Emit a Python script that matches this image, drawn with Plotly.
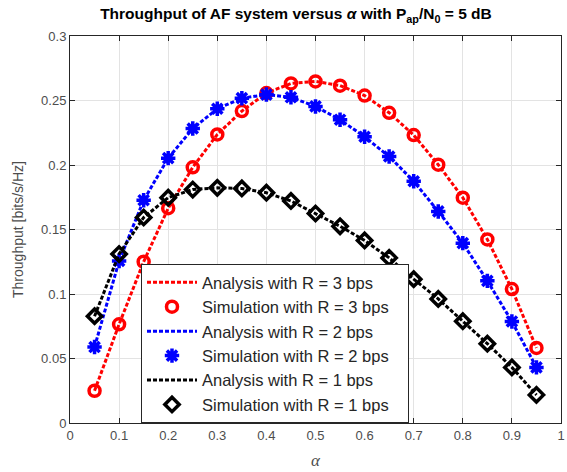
import plotly.graph_objects as go

alpha = [0.05, 0.10, 0.15, 0.20, 0.25, 0.30, 0.35, 0.40, 0.45, 0.50,
         0.55, 0.60, 0.65, 0.70, 0.75, 0.80, 0.85, 0.90, 0.95]

r3_throughput = [0.0250, 0.0765, 0.1250, 0.1665, 0.1982, 0.2237, 0.2418, 0.2558, 0.2632, 0.2648,
                 0.2615, 0.2538, 0.2405, 0.2232, 0.2002, 0.1747, 0.1423, 0.1038, 0.0582]
r2_throughput = [0.0589, 0.1256, 0.1727, 0.2053, 0.2283, 0.2436, 0.2518, 0.2546, 0.2525, 0.2454,
                 0.2351, 0.2219, 0.2066, 0.1874, 0.1640, 0.1394, 0.1102, 0.0787, 0.0431]
r1_throughput = [0.0828, 0.1310, 0.1593, 0.1747, 0.1810, 0.1823, 0.1818, 0.1785, 0.1721, 0.1624,
                 0.1525, 0.1415, 0.1280, 0.1115, 0.0962, 0.0789, 0.0615, 0.0431, 0.0218]

x_ticks = [0, 0.1, 0.2, 0.3, 0.4, 0.5, 0.6, 0.7, 0.8, 0.9, 1]
x_tick_labels = ["0", "0.1", "0.2", "0.3", "0.4", "0.5", "0.6", "0.7", "0.8", "0.9", "1"]
y_ticks = [0, 0.05, 0.1, 0.15, 0.2, 0.25, 0.3]
y_tick_labels = ["0", "0.05", "0.1", "0.15", "0.2", "0.25", "0.3"]

series = [
    ("3", r3_throughput, "#ff0000", "circle-open", 11),
    ("2", r2_throughput, "#0000ff", "asterisk-open", 12),
    ("1", r1_throughput, "#000000", "diamond-open", 11),
]

pad = "\u00a0\u00a0\u00a0"
fig = go.Figure()
for r, vals, col, sym, size in series:
    fig.add_trace(go.Scatter(
        x=alpha, y=vals, mode="lines",
        line=dict(color=col, width=3, dash="4px,2px"),
        name=f"Analysis with R = {r} bps" + pad))
    fig.add_trace(go.Scatter(
        x=alpha, y=vals, mode="markers",
        marker=dict(symbol=sym, size=size, color=col,
                    line=dict(color=col, width=3.5)),
        name=f"Simulation with R = {r} bps" + pad))

axis_common = dict(
    showline=True, mirror="ticks", linecolor="#262626", linewidth=1,
    ticks="inside", ticklen=5, tickcolor="#262626",
    showgrid=True, gridcolor="#e3e3e3", gridwidth=1,
    zeroline=False, automargin=False,
    tickfont=dict(family="Liberation Sans, Arial, sans-serif", size=13, color="#4d4d4d"),
)

fig.update_layout(
    width=567, height=472,
    margin=dict(l=70, r=6, t=36, b=49),
    paper_bgcolor="white", plot_bgcolor="white",
    title=dict(
        text="<b>Throughput of AF system versus <i>α</i> with P<sub>ap</sub>/N<sub>0</sub> = 5 dB</b>",
        x=0.522, xanchor="center", y=0.982, yanchor="top",
        font=dict(family="Liberation Sans, Arial, sans-serif", size=15.5, color="black")),
    xaxis=dict(range=[0, 1], tickvals=x_ticks, ticktext=x_tick_labels,
               title=dict(text="<i>α</i>", standoff=12,
                          font=dict(family="Liberation Serif, Times New Roman, serif", size=17, color="#4d4d4d")),
               **axis_common),
    yaxis=dict(range=[0, 0.3], tickvals=y_ticks, ticktext=y_tick_labels,
               title=dict(text="Throughput [bits/s/Hz]", standoff=14,
                          font=dict(family="Liberation Sans, Arial, sans-serif", size=14, color="#4d4d4d")),
               **axis_common),
    legend=dict(
        x=0.1446, y=0.0, xanchor="left", yanchor="bottom",
        bgcolor="white", bordercolor="#262626", borderwidth=1,
        font=dict(family="Liberation Sans, Arial, sans-serif", size=16.5, color="#262626"),
        itemwidth=50, tracegroupgap=0),
    showlegend=True,
)

fig.write_html("out.html", config={"displayModeBar": False},
               post_script="document.body.style.margin='0';")
